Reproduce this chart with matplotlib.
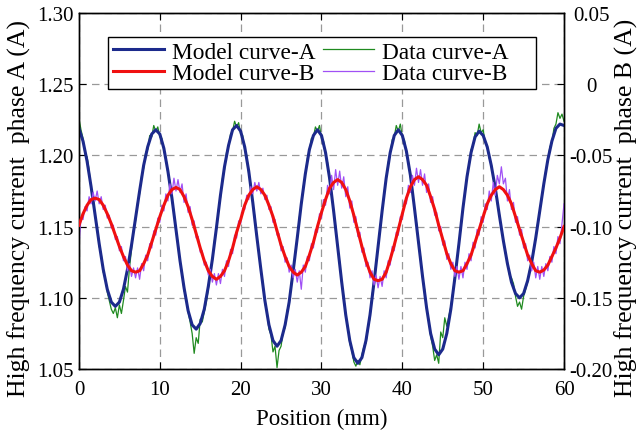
import numpy as np
import matplotlib
matplotlib.use("Agg")
import matplotlib.pyplot as plt

plt.rcParams['font.family'] = ['Liberation Serif', 'DejaVu Serif']
plt.rcParams['axes.unicode_minus'] = False

# ---------------- data ----------------
# Model curves sampled every 0.5 mm, data curves every 0.25 mm
model_A = [
    1.219, 1.210, 1.196, 1.178, 1.158, 1.138, 1.120, 1.106, 1.097, 1.094,
    1.097, 1.106, 1.120, 1.137, 1.156, 1.175, 1.193, 1.206, 1.215, 1.218,
    1.215, 1.205, 1.189, 1.170, 1.148, 1.126, 1.107, 1.091, 1.081, 1.078,
    1.082, 1.092, 1.108, 1.127, 1.149, 1.172, 1.192, 1.207, 1.218, 1.221,
    1.217, 1.206, 1.189, 1.167, 1.143, 1.120, 1.098, 1.081, 1.070, 1.066,
    1.070, 1.081, 1.097, 1.119, 1.142, 1.166, 1.187, 1.204, 1.214, 1.218,
    1.214, 1.202, 1.184, 1.161, 1.136, 1.111, 1.088, 1.070, 1.058, 1.054,
    1.058, 1.070, 1.088, 1.111, 1.136, 1.161, 1.184, 1.202, 1.214, 1.218,
    1.214, 1.203, 1.186, 1.163, 1.139, 1.115, 1.093, 1.075, 1.064, 1.060,
    1.064, 1.075, 1.092, 1.114, 1.138, 1.163, 1.185, 1.202, 1.213, 1.217,
    1.214, 1.206, 1.193, 1.177, 1.158, 1.140, 1.124, 1.111, 1.103, 1.100,
    1.103, 1.112, 1.125, 1.142, 1.161, 1.180, 1.197, 1.210, 1.219, 1.222, 1.221,
]

model_B = [
    -0.099, -0.091, -0.085, -0.081, -0.080, -0.081, -0.085, -0.091, -0.098, -0.106,
    -0.114, -0.121, -0.127, -0.131, -0.132, -0.131, -0.126, -0.120, -0.111, -0.102,
    -0.093, -0.085, -0.078, -0.074, -0.0725, -0.074, -0.079, -0.086, -0.095, -0.105,
    -0.115, -0.124, -0.131, -0.135, -0.137, -0.135, -0.131, -0.124, -0.115, -0.104,
    -0.095, -0.085, -0.078, -0.074, -0.072, -0.074, -0.078, -0.085, -0.093, -0.103,
    -0.113, -0.121, -0.128, -0.132, -0.134, -0.132, -0.128, -0.120, -0.111, -0.100,
    -0.090, -0.081, -0.073, -0.069, -0.067, -0.069, -0.074, -0.082, -0.092, -0.103,
    -0.114, -0.124, -0.132, -0.137, -0.138, -0.137, -0.132, -0.123, -0.113, -0.102,
    -0.091, -0.080, -0.072, -0.067, -0.065, -0.067, -0.071, -0.079, -0.088, -0.099,
    -0.109, -0.119, -0.126, -0.131, -0.132, -0.131, -0.126, -0.120, -0.111, -0.102,
    -0.093, -0.084, -0.078, -0.074, -0.072, -0.074, -0.078, -0.084, -0.093, -0.102,
    -0.111, -0.120, -0.126, -0.131, -0.132, -0.1305, -0.127, -0.121, -0.115, -0.108, -0.100,
]

data_A = [
    1.226, 1.218, 1.212, 1.201, 1.199, 1.190, 1.176, 1.171, 1.157, 1.150,
    1.136, 1.131, 1.118, 1.114, 1.104, 1.098, 1.092, 1.089, 1.093, 1.086,
    1.095, 1.089, 1.098, 1.108, 1.104, 1.121, 1.134, 1.148, 1.154, 1.167,
    1.173, 1.186, 1.191, 1.202, 1.204, 1.214, 1.213, 1.221, 1.217, 1.220,
    1.213, 1.212, 1.203, 1.199, 1.187, 1.182, 1.168, 1.161, 1.146, 1.139,
    1.125, 1.118, 1.105, 1.101, 1.090, 1.083, 1.075, 1.061, 1.072, 1.068,
    1.085, 1.083, 1.090, 1.097, 1.106, 1.119, 1.126, 1.140, 1.148, 1.162,
    1.170, 1.184, 1.190, 1.202, 1.206, 1.215, 1.217, 1.224, 1.220, 1.223,
    1.215, 1.214, 1.204, 1.200, 1.187, 1.180, 1.166, 1.157, 1.142, 1.133,
    1.119, 1.111, 1.096, 1.091, 1.078, 1.074, 1.062, 1.066, 1.051, 1.063,
    1.066, 1.076, 1.079, 1.091, 1.096, 1.110, 1.118, 1.132, 1.141, 1.156,
    1.165, 1.178, 1.186, 1.198, 1.203, 1.212, 1.213, 1.220, 1.217, 1.221,
    1.212, 1.210, 1.201, 1.195, 1.183, 1.174, 1.160, 1.150, 1.135, 1.125,
    1.110, 1.101, 1.087, 1.080, 1.068, 1.063, 1.055, 1.052, 1.056, 1.053,
    1.060, 1.066, 1.068, 1.078, 1.086, 1.102, 1.110, 1.125, 1.135, 1.150,
    1.160, 1.174, 1.183, 1.195, 1.201, 1.211, 1.213, 1.221, 1.217, 1.222,
    1.213, 1.211, 1.202, 1.196, 1.185, 1.176, 1.162, 1.153, 1.138, 1.129,
    1.114, 1.106, 1.092, 1.085, 1.073, 1.066, 1.056, 1.060, 1.054, 1.076,
    1.072, 1.086, 1.080, 1.087, 1.094, 1.104, 1.116, 1.125, 1.139, 1.149,
    1.164, 1.173, 1.186, 1.192, 1.204, 1.207, 1.216, 1.214, 1.222, 1.216,
    1.218, 1.209, 1.207, 1.198, 1.194, 1.184, 1.178, 1.166, 1.159, 1.148,
    1.141, 1.131, 1.125, 1.116, 1.114, 1.110, 1.101, 1.094, 1.097, 1.092,
    1.101, 1.106, 1.111, 1.120, 1.124, 1.135, 1.141, 1.153, 1.160, 1.172,
    1.179, 1.190, 1.196, 1.206, 1.209, 1.219, 1.222, 1.230, 1.226, 1.229,
    1.224,
]

data_B = [
    -0.113, -0.094, -0.095, -0.086, -0.089, -0.079, -0.084, -0.076, -0.082, -0.075,
    -0.084, -0.079, -0.088, -0.085, -0.094, -0.092, -0.101, -0.099, -0.109, -0.107,
    -0.117, -0.114, -0.124, -0.121, -0.131, -0.126, -0.135, -0.129, -0.136, -0.129,
    -0.137, -0.126, -0.131, -0.120, -0.124, -0.112, -0.115, -0.103, -0.106, -0.094,
    -0.097, -0.085, -0.089, -0.077, -0.082, -0.070, -0.077, -0.066, -0.075, -0.067,
    -0.076, -0.070, -0.083, -0.077, -0.090, -0.086, -0.099, -0.096, -0.108, -0.107,
    -0.118, -0.117, -0.127, -0.125, -0.134, -0.130, -0.139, -0.133, -0.141, -0.133,
    -0.140, -0.130, -0.135, -0.124, -0.128, -0.116, -0.119, -0.106, -0.108, -0.096,
    -0.098, -0.087, -0.088, -0.078, -0.081, -0.072, -0.077, -0.069, -0.075, -0.069,
    -0.077, -0.073, -0.081, -0.078, -0.088, -0.086, -0.097, -0.095, -0.106, -0.105,
    -0.117, -0.114, -0.125, -0.122, -0.132, -0.127, -0.136, -0.130, -0.139, -0.131,
    -0.144, -0.127, -0.132, -0.121, -0.124, -0.112, -0.115, -0.102, -0.104, -0.091,
    -0.094, -0.081, -0.085, -0.071, -0.077, -0.064, -0.074, -0.060, -0.071, -0.061,
    -0.073, -0.065, -0.079, -0.072, -0.087, -0.082, -0.097, -0.093, -0.107, -0.104,
    -0.118, -0.115, -0.128, -0.125, -0.136, -0.131, -0.141, -0.134, -0.143, -0.135,
    -0.142, -0.131, -0.136, -0.124, -0.127, -0.114, -0.117, -0.104, -0.106, -0.093,
    -0.095, -0.082, -0.084, -0.071, -0.076, -0.064, -0.071, -0.059, -0.069, -0.060,
    -0.071, -0.063, -0.076, -0.070, -0.083, -0.079, -0.092, -0.090, -0.103, -0.100,
    -0.113, -0.110, -0.123, -0.119, -0.130, -0.125, -0.135, -0.128, -0.137, -0.128,
    -0.136, -0.125, -0.130, -0.119, -0.124, -0.111, -0.115, -0.102, -0.106, -0.093,
    -0.097, -0.084, -0.088, -0.075, -0.082, -0.069, -0.078, -0.064, -0.070, -0.058,
    -0.070, -0.066, -0.082, -0.074, -0.088, -0.083, -0.097, -0.093, -0.106, -0.102,
    -0.115, -0.112, -0.124, -0.120, -0.131, -0.125, -0.136, -0.128, -0.137, -0.128,
    -0.135, -0.126, -0.131, -0.121, -0.125, -0.114, -0.119, -0.107, -0.112, -0.098,
    -0.084,
]

x_ticks = [0, 10, 20, 30, 40, 50, 60]
yA_ticks = [1.05, 1.10, 1.15, 1.20, 1.25, 1.30]
yA_labels = ["1.05", "1.10", "1.15", "1.20", "1.25", "1.30"]
yB_ticks = [-0.20, -0.15, -0.10, -0.05, 0.0, 0.05]
yB_labels = ["-0.20", "-0.15", "-0.10", "-0.05", "0", "0.05"]
legend_labels = ["Model curve-A", "Model curve-B", "Data curve-A    ", "Data curve-B    "]

x_model = np.linspace(0, 60, len(model_A))
x_model_B = np.linspace(0, 60, len(model_B))
x_data_A = np.linspace(0, 60, len(data_A))
x_data_B = np.linspace(0, 60, len(data_B))

# ---------------- figure ----------------
fig = plt.figure(figsize=(6.41, 4.35), dpi=100)
ax1 = fig.add_axes([0.1232, 0.1494, 0.7567, 0.8184])
ax2 = ax1.twinx()

c_blue = '#1c2a8c'
c_green = '#1f8a1f'
c_red = '#f01010'
c_purple = '#a050f5'

lA_d, = ax1.plot(x_data_A, data_A, color=c_green, lw=0.9, zorder=2)
lA_m, = ax1.plot(x_model, model_A, color=c_blue, lw=2.2, zorder=3)
lB_d, = ax2.plot(x_data_B, data_B, color=c_purple, lw=0.9, zorder=2)
lB_m, = ax2.plot(x_model_B, model_B, color=c_red, lw=2.2, zorder=3)

ax1.set_xlim(0, 60)
ax1.set_ylim(1.05, 1.30)
ax2.set_ylim(-0.20, 0.05)

ax1.set_xticks(x_ticks)
ax1.set_yticks(yA_ticks)
ax1.set_yticklabels(yA_labels)
ax2.set_yticks(yB_ticks)
ax2.set_yticklabels(yB_labels)

ax1.grid(True, linestyle=(0, (6, 4)), color='#999999', lw=0.9)

fs_tick = 15
fs_lab = 16.5
for ax in (ax1, ax2):
    ax.tick_params(direction='in', length=5, width=0.8, labelsize=fs_tick)
    for s in ax.spines.values():
        s.set_linewidth(1.0)
ax1.tick_params(top=True)
ax1.tick_params(axis='x', pad=8)
ax1.tick_params(axis='y', pad=4)
ax2.tick_params(axis='y', pad=19.5)
for lbl in ax2.get_yticklabels():
    lbl.set_horizontalalignment('center')

ax1.set_xlabel("Position (mm)", fontsize=fs_lab, labelpad=6)
ax1.set_ylabel("High frequency current  phase A (A)", fontsize=18.5)
ax2.set_ylabel("High frequency current  phase B (A)", fontsize=18.5)
ax1.yaxis.set_label_coords(-0.099, 0.455)
ax2.yaxis.set_label_coords(1.105, 0.455)

leg = ax1.legend([lA_m, lB_m, lA_d, lB_d], legend_labels,
                 ncol=2, loc='upper left', bbox_to_anchor=(0.06, 0.934),
                 fontsize=16.8, frameon=True, fancybox=False, edgecolor='black',
                 framealpha=1, handlelength=2.2, handletextpad=0.35,
                 columnspacing=0.3, borderpad=0.2, labelspacing=0.0,
                 borderaxespad=0)
leg.get_frame().set_linewidth(1.0)

fig.savefig("out.png", dpi=100)
